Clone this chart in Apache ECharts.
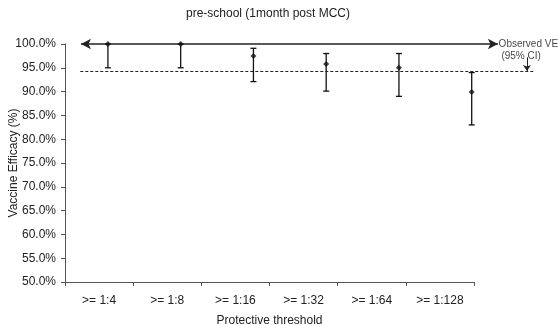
<!DOCTYPE html>
<html><head><meta charset="utf-8">
<script src="https://cdn.jsdelivr.net/npm/echarts@6/dist/echarts.min.js"></script>
<style>html,body{margin:0;padding:0;background:#fff}#c{width:558px;height:325px}</style>
</head><body><div id="c"></div>
<script>
var categories = ['>= 1:4', '>= 1:8', '>= 1:16', '>= 1:32', '>= 1:64', '>= 1:128'];
var pointPos = [1, 2, 3, 4, 5, 6];
var ve = [100, 100, 97.5, 95.8, 95.0, 89.9];
var ciLow = [95.0, 95.0, 92.1, 90.1, 89.0, 83.0];
var ciHigh = [100, 100, 99.1, 98.0, 98.0, 94.0];
var observedVE = 94.2;
var yTicks = [50, 100, 5];

var font = 'Liberation Sans, Arial, sans-serif';
var chart = echarts.init(document.getElementById('c'));
var pts = pointPos.map(function (x, i) { return [x, ve[i]]; });
var bars = pointPos.map(function (x, i) { return [x, ciLow[i], ciHigh[i]]; });

chart.setOption({
  animation: false,
  backgroundColor: '#fff',
  title: { text: 'pre-school (1month post MCC)', left: 263, top: 3, textAlign: 'center',
    textStyle: { fontFamily: font, fontSize: 12, fontWeight: 'normal', color: '#222' } },
  grid: [
    { left: 65, right: 84, top: 44, bottom: 43, outerBoundsMode: 'none', containLabel: false },
    { left: 65, right: 23, top: 44, bottom: 43, outerBoundsMode: 'none', containLabel: false }
  ],
  xAxis: [
    { type: 'category', gridIndex: 0, data: categories, boundaryGap: true,
      name: 'Protective threshold', nameLocation: 'middle', nameGap: 33, nameMoveOverlap: false,
      nameTextStyle: { fontFamily: font, fontSize: 12, color: '#222' },
      axisLine: { lineStyle: { color: '#555', width: 1 } },
      axisTick: { show: true, length: 4, lineStyle: { color: '#555' } },
      axisLabel: { fontFamily: font, fontSize: 12, color: '#222', margin: 13 },
      splitLine: { show: false } },
    { type: 'value', gridIndex: 1, min: 0.41, max: 6.87, show: false }
  ],
  yAxis: [
    { type: 'value', gridIndex: 0, min: yTicks[0], max: yTicks[1], interval: yTicks[2],
      name: 'Vaccine Efficacy (%)', nameLocation: 'middle', nameGap: 45, nameMoveOverlap: false,
      nameTextStyle: { fontFamily: font, fontSize: 12, color: '#222' },
      axisLine: { show: true, lineStyle: { color: '#555', width: 1 } },
      axisTick: { show: true, length: 4, lineStyle: { color: '#555' } },
      axisLabel: { fontFamily: font, fontSize: 12, color: '#222', margin: 9,
        formatter: function (v) { return v.toFixed(1) + '%'; } },
      splitLine: { show: false } },
    { type: 'value', gridIndex: 1, min: yTicks[0], max: yTicks[1], show: false }
  ],
  series: [
    { type: 'custom', xAxisIndex: 1, yAxisIndex: 1, data: bars, z: 3,
      renderItem: function (params, api) {
        var x = api.value(0);
        var lo = api.coord([x, api.value(1)]);
        var hi = api.coord([x, api.value(2)]);
        var w = 3;
        var st = { stroke: '#111', lineWidth: 1.3 };
        return { type: 'group', children: [
          { type: 'line', shape: { x1: lo[0], y1: lo[1], x2: hi[0], y2: hi[1] }, style: st },
          { type: 'line', shape: { x1: lo[0] - w, y1: lo[1], x2: lo[0] + w, y2: lo[1] }, style: st },
          { type: 'line', shape: { x1: hi[0] - w, y1: hi[1], x2: hi[0] + w, y2: hi[1] }, style: st }
        ] };
      } },
    { type: 'scatter', xAxisIndex: 1, yAxisIndex: 1, data: pts, symbol: 'diamond', symbolSize: 6, z: 5,
      itemStyle: { color: '#111' },
      markLine: { silent: true, symbol: ['arrow', 'arrow'], symbolSize: [8, 10], label: { show: false },
        lineStyle: { color: '#222', width: 1.5, type: 'solid' },
        data: [[{ coord: [0.63, 100] }, { coord: [6.36, 100] }]] } },
    { type: 'scatter', xAxisIndex: 1, yAxisIndex: 1, data: [[6.37, 100]], symbolSize: 0, z: 6,
      label: { show: true, position: 'right', distance: 0, formatter: 'Observed VE\n (95% CI)',
        fontFamily: font, fontSize: 10, color: '#111', lineHeight: 12, align: 'left', verticalAlign: 'top',
        offset: [0, -6] },
      markLine: { silent: true, label: { show: false },
        data: [
          [{ coord: [0.62, observedVE], symbol: 'none', lineStyle: { type: [3, 2], color: '#222', width: 1 } },
           { coord: [6.87, observedVE], symbol: 'none' }],
          [{ coord: [6.76, 97.2], symbol: 'none', lineStyle: { type: 'solid', color: '#222', width: 1 } },
           { coord: [6.76, observedVE + 0.15], symbol: 'arrow', symbolSize: [6, 6] }]
        ] } }
  ]
});
</script></body></html>
